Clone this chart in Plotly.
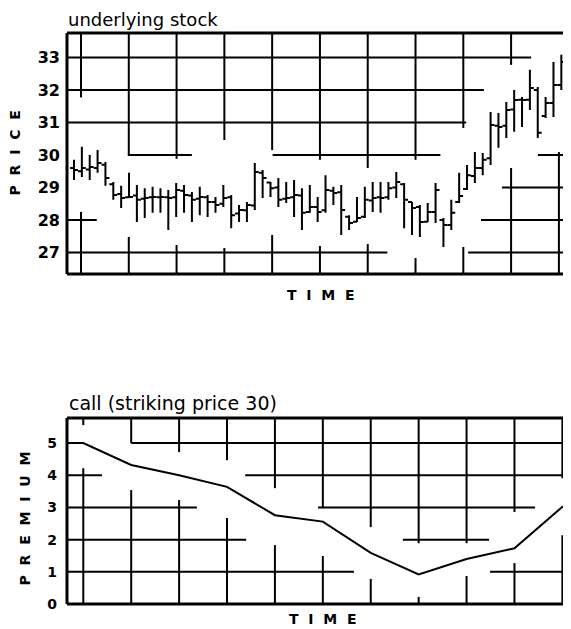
import plotly.graph_objects as go

# ---------------- data: underlying stock (daily bars) ----------------
day = list(range(64))
high = [29.85, 30.25, 30.00, 30.15, 29.78, 29.17, 29.05, 29.45, 29.08, 28.98,
        29.02, 28.98, 28.92, 29.14, 29.08, 28.86, 29.02, 28.77, 28.71, 29.08,
        28.77, 28.46, 28.55, 29.75, 29.54, 29.17, 29.29, 29.17, 29.23, 28.98,
        29.08, 28.71, 29.38, 29.02, 29.08, 28.15, 28.71, 29.02, 29.17, 29.17,
        29.17, 29.48, 29.14, 28.55, 28.46, 28.52, 29.14, 28.06, 28.62, 29.45,
        29.69, 30.09, 30.06, 31.32, 31.29, 31.63, 32.00, 31.78, 32.62, 32.09,
        31.78, 32.86, 33.08, 33.02]
low = [29.23, 29.32, 29.23, 29.45, 29.05, 28.62, 28.37, 28.68, 27.94, 28.06,
       28.22, 28.22, 27.69, 28.09, 28.22, 27.94, 28.15, 28.09, 28.22, 28.40,
       27.75, 27.94, 27.94, 28.31, 28.68, 28.71, 28.40, 28.52, 28.09, 27.69,
       28.22, 27.94, 28.22, 28.46, 27.54, 27.69, 27.94, 28.06, 28.25, 28.22,
       28.62, 28.68, 27.75, 27.54, 27.48, 27.94, 27.91, 27.17, 27.69, 28.52,
       28.92, 29.14, 29.38, 29.69, 30.22, 30.52, 30.71, 30.86, 31.38, 30.52,
       31.14, 31.17, 32.00, 32.06]
close = [29.54, 29.60, 29.63, 29.75, 29.29, 28.77, 28.68, 28.71, 28.62, 28.68,
         28.71, 28.71, 28.68, 28.92, 28.77, 28.62, 28.71, 28.55, 28.46, 28.68,
         28.15, 28.31, 28.46, 29.48, 29.29, 28.98, 28.62, 28.68, 28.77, 28.22,
         28.40, 28.25, 28.92, 28.83, 28.31, 27.91, 28.06, 28.62, 28.68, 28.68,
         28.98, 29.17, 28.62, 28.37, 27.94, 28.25, 28.92, 27.85, 28.22, 28.74,
         29.38, 29.60, 29.85, 30.92, 30.86, 31.38, 31.69, 31.69, 32.06, 30.68,
         31.60, 32.15, 32.86, 32.77]
open_ = [29.60, 29.50, 29.55, 29.60, 29.70, 29.10, 28.80, 28.70, 28.75, 28.65,
         28.70, 28.70, 28.70, 28.70, 28.90, 28.75, 28.65, 28.70, 28.55, 28.50,
         28.70, 28.20, 28.30, 28.45, 29.45, 29.15, 29.00, 28.65, 28.70, 28.75,
         28.25, 28.40, 28.30, 28.90, 28.85, 28.10, 27.95, 28.10, 28.60, 28.70,
         28.70, 29.00, 29.10, 28.55, 28.40, 27.95, 28.25, 28.00, 27.85, 28.55,
         28.95, 29.35, 29.60, 29.90, 30.90, 30.90, 31.40, 31.70, 31.70, 32.00,
         31.20, 31.60, 32.15, 32.85]
price_ticks = [27, 28, 29, 30, 31, 32, 33]

# ---------------- data: call premium (weekly) ----------------
week = [-0.34, 0, 1, 2, 3, 4, 5, 6, 7, 8, 9, 10, 10.18]
premium = [5.0, 5.0, 4.32, 4.0, 3.64, 2.76, 2.56, 1.59, 0.92, 1.40, 1.73, 3.02, 3.0]
premium_ticks = [0, 1, 2, 3, 4, 5]

# ---------------- layout constants ----------------
PAGE_PAD = 8                      # browser default body margin
W, H = 571 - PAGE_PAD, 629 - PAGE_PAD
LEFT = 67 - PAGE_PAD
PLOT_W = W - LEFT


def py(p):  # page pixel row -> paper y
    return 1 - (p - PAGE_PAD) / H


def px(p):  # page pixel column -> paper x
    return (p - 67) / PLOT_W


TOP_DOM = [py(274), py(33)]
BOT_DOM = [py(604), py(418)]
X1_RANGE = [-0.89, 63.23]
Y1_RANGE = [26.34, 33.75]
X2_RANGE = [-0.34, 10.18]
Y2_RANGE = [0, 5.78]
G0, GSTEP = 0.89, 6.08  # top panel grid positions in bar units


def gx(k):
    return G0 + GSTEP * k


fig = go.Figure()
fig.add_trace(go.Ohlc(
    x=day, open=open_, high=high, low=low, close=close,
    xaxis="x", yaxis="y", tickwidth=0.5,
    increasing=dict(line=dict(color="black", width=2)),
    decreasing=dict(line=dict(color="black", width=2)),
    showlegend=False, hoverinfo="skip"))
fig.add_trace(go.Scatter(
    x=week, y=premium, mode="lines", xaxis="x2", yaxis="y2",
    line=dict(color="black", width=2), showlegend=False, hoverinfo="skip"))

shapes = []
GRID = dict(color="black", width=2)

# top panel broken grid: horizontal (price, from_week, to_week)
E0, E1 = -2, 12
top_h = [(33, E0, 9.42), (32, E0, 8.43), (31, E0, 8.06),
         (30, 0.98, 2.32), (30, 4.01, 7.52), (30, 9.56, E1),
         (29, 8.81, E1), (28, E0, 0.33), (28, 8.37, E1),
         (27, E0, 6.41), (27, 8.10, E1)]
for yv, a, b in top_h:
    shapes.append(dict(type="line", xref="x", yref="y", x0=max(gx(a), X1_RANGE[0]),
                       x1=min(gx(b), X1_RANGE[1]), y0=yv, y1=yv, line=GRID, layer="below"))
T, B = Y1_RANGE[1], Y1_RANGE[0]
top_v = [(0, [(31.77, T), (B, 28.25)]), (1, [(30.0, T), (B, 27.48)]),
         (2, [(29.88, T), (B, 27.23)]), (3, [(30.46, T), (B, 27.14)]),
         (4, [(30.15, T), (B, 27.54)]), (5, [(29.85, T), (B, 27.2)]),
         (6, [(29.6, T), (B, 27.26)]), (7, [(29.85, T), (B, 26.83)]),
         (8, [(30.83, T), (B, 27.17)]), (9, [(32.77, T), (B, 29.6)]),
         (10, [(B, 30.09)])]
for k, segs in top_v:
    for a, b in segs:
        shapes.append(dict(type="line", xref="x", yref="y", x0=gx(k), x1=gx(k),
                           y0=a, y1=b, line=GRID, layer="below"))

# bottom panel broken grid
bot_h = [(5, 1.0, X2_RANGE[1]), (4, X2_RANGE[0], 0.39), (4, 3.38, X2_RANGE[1]),
         (3, X2_RANGE[0], 2.37), (3, 4.9, 9.43), (2, X2_RANGE[0], 3.4), (2, 6.67, 8.47),
         (1, X2_RANGE[0], 5.65), (1, 8.49, X2_RANGE[1])]
for yv, a, b in bot_h:
    shapes.append(dict(type="line", xref="x2", yref="y2", x0=a, x1=b, y0=yv, y1=yv,
                       line=GRID, layer="below"))
T2 = Y2_RANGE[1]
bot_v = [(0, 5.56, 4.22), (1, 5.0, 3.54), (2, 4.72, 3.23), (3, 4.47, 2.67),
         (4, 3.6, 1.83), (5, 2.98, 1.49), (6, 2.39, 0.78), (7, 1.89, 0.22),
         (8, 1.89, 0.87), (9, 2.86, 1.27), (10, 3.91, 2.14)]
for k, a, b in bot_v:
    shapes.append(dict(type="line", xref="x2", yref="y2", x0=k, x1=k, y0=T2, y1=a,
                       line=GRID, layer="below"))
    shapes.append(dict(type="line", xref="x2", yref="y2", x0=k, x1=k, y0=b, y1=0,
                       line=GRID, layer="below"))

# frames (left, top, bottom; right side runs off the page)
BORDER = dict(color="black", width=3)
for d in (TOP_DOM, BOT_DOM):
    shapes.append(dict(type="line", xref="paper", yref="paper", x0=0, x1=0, y0=d[0], y1=d[1], line=BORDER))
    shapes.append(dict(type="line", xref="paper", yref="paper", x0=0, x1=1.01, y0=d[0], y1=d[0], line=BORDER))
    shapes.append(dict(type="line", xref="paper", yref="paper", x0=0, x1=1.01, y0=d[1], y1=d[1], line=BORDER))

SP = "\u2002\u2009"
TXT = dict(family="DejaVu Sans", color="black")
BOLD = dict(family="DejaVu Sans", color="black", weight="bold")
annotations = [
    dict(text="underlying stock", x=0, y=1, xref="paper", yref="paper",
         xanchor="left", yanchor="top", borderpad=0, showarrow=False, font=dict(size=18, **TXT)),
    dict(text="call (striking price 30)", x=0, y=py(403), xref="paper", yref="paper",
         xanchor="left", yanchor="middle", showarrow=False, font=dict(size=19, **TXT)),
    dict(text=SP.join("TIME"), x=px(321), y=py(294.5), xref="paper", yref="paper",
         xanchor="center", yanchor="middle", showarrow=False, font=dict(size=14, **BOLD)),
    dict(text=SP.join("TIME"), x=px(323), y=py(619), xref="paper", yref="paper",
         xanchor="center", yanchor="middle", showarrow=False, font=dict(size=14, **BOLD)),
    dict(text=SP.join("PRICE"), x=px(14.5), y=py(153), xref="paper", yref="paper",
         xanchor="center", yanchor="middle", textangle=-90, showarrow=False, font=dict(size=14, **BOLD)),
    dict(text=SP.join("PREMIUM"), x=px(24.5), y=py(519), xref="paper", yref="paper",
         xanchor="center", yanchor="middle", textangle=-90, showarrow=False, font=dict(size=14, **BOLD)),
]

fig.update_layout(
    width=W, height=H, margin=dict(l=LEFT, r=0, t=0, b=0, autoexpand=False),
    paper_bgcolor="white", plot_bgcolor="white", showlegend=False,
    xaxis=dict(domain=[0, 1], range=X1_RANGE, anchor="y", showgrid=False, zeroline=False,
               showticklabels=False, ticks="", showline=False, rangeslider=dict(visible=False),
               fixedrange=True, automargin=False),
    yaxis=dict(domain=TOP_DOM, range=Y1_RANGE, anchor="x", showgrid=False, zeroline=False,
               tickvals=price_ticks, ticks="", ticklabelstandoff=6, showline=False,
               tickfont=dict(size=16, **BOLD), automargin=False),
    xaxis2=dict(domain=[0, 1], range=X2_RANGE, anchor="y2", showgrid=False, zeroline=False,
                showticklabels=False, ticks="", showline=False, automargin=False),
    yaxis2=dict(domain=BOT_DOM, range=Y2_RANGE, anchor="x2", showgrid=False, zeroline=False,
                tickvals=premium_ticks, ticks="", ticklabelstandoff=9, showline=False,
                tickfont=dict(size=14, **BOLD), automargin=False),
    shapes=shapes, annotations=annotations,
)

fig.write_html("out.html")
